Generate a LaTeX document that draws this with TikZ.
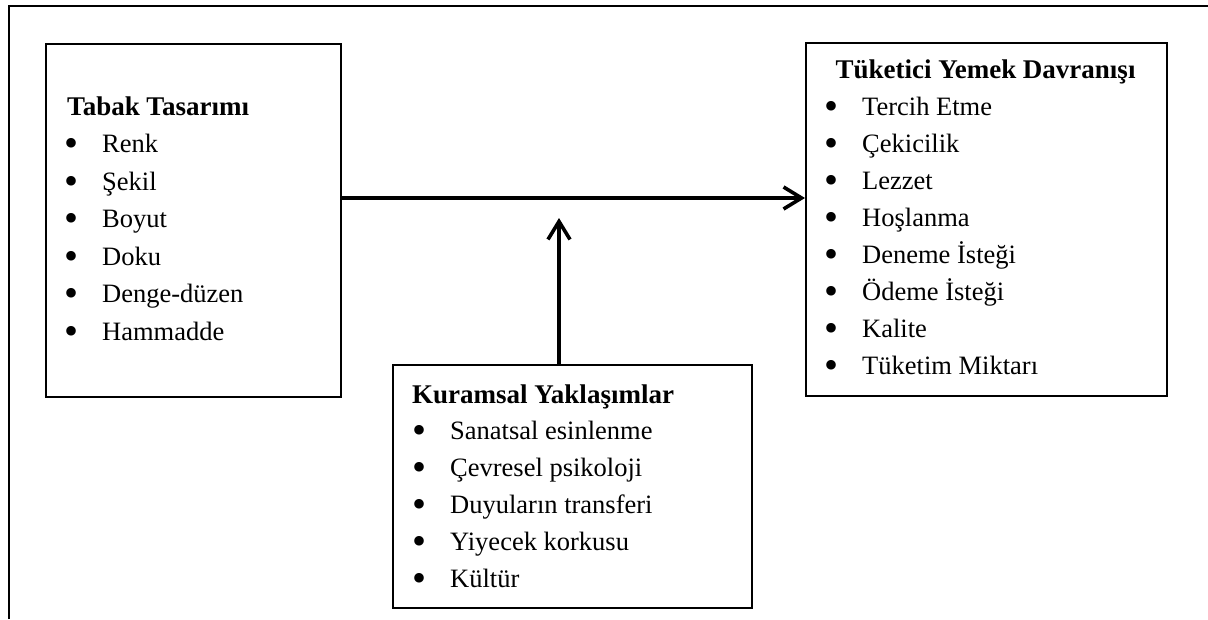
\documentclass[tikz,border=0pt]{standalone}
\usepackage{fontspec}
\setmainfont{Liberation Serif}
\usetikzlibrary{arrows.meta}
\newcommand\mybul{\makebox[38pt][l]{\raisebox{-4pt}{\fontsize{40}{40}\selectfont\textbullet}}}
\begin{document}
\begin{tikzpicture}[x=1pt,y=-1pt,
  box/.style={draw=black,line width=1.5pt,rectangle,inner sep=0pt,anchor=north west},
  ttl/.style={anchor=base west,inner sep=0pt,font=\fontsize{27}{27}\selectfont\bfseries},
  itm/.style={anchor=base west,inner sep=0pt,font=\fontsize{26.5}{27}\selectfont},
  arr/.style={line width=3.6pt,-{Straight Barb[length=18pt,width=22pt]}},
  frame/.style={line width=2pt}]
\useasboundingbox (0,0) rectangle (1208,619);
% outer frame
\coordinate (f1) at (9,619);
\coordinate (f2) at (9,5.7);
\coordinate (f3) at (1208,5.7);
\draw[frame] (f1) -- (f2) -- (f3);
% boxes
\node[box,minimum width=295pt,minimum height=353pt] (tabak) at (45,43) {};
\node[box,minimum width=361pt,minimum height=353pt] (tuk) at (805,42) {};
\node[box,minimum width=359pt,minimum height=243pt] (kur) at (392,364) {};
% left box text
\node[ttl] (t0) at (67,115) {Tabak Tasarımı};
\node[itm] (t1) at (64,152.7) {\mybul Renk};
\node[itm] (t2) at (64,190.2) {\mybul Şekil};
\node[itm] (t3) at (64,227.7) {\mybul Boyut};
\node[itm] (t4) at (64,265.2) {\mybul Doku};
\node[itm] (t5) at (64,302.7) {\mybul Denge-düzen};
\node[itm] (t6) at (64,340.2) {\mybul Hammadde};
% right box text
\node[ttl,anchor=base] (r0) at (985.5,78) {Tüketici Yemek Davranışı};
\node[itm] (r1) at (824,115.1) {\mybul Tercih Etme};
\node[itm] (r2) at (824,152.2) {\mybul Çekicilik};
\node[itm] (r3) at (824,189.3) {\mybul Lezzet};
\node[itm] (r4) at (824,226.4) {\mybul Hoşlanma};
\node[itm] (r5) at (824,263.5) {\mybul Deneme İsteği};
\node[itm] (r6) at (824,300.6) {\mybul Ödeme İsteği};
\node[itm] (r7) at (824,337.7) {\mybul Kalite};
\node[itm] (r8) at (824,374.8) {\mybul Tüketim Miktarı};
% bottom box text
\node[ttl] (k0) at (412,403) {Kuramsal Yaklaşımlar};
\node[itm] (k1) at (412,439.8) {\mybul Sanatsal esinlenme};
\node[itm] (k2) at (412,476.6) {\mybul Çevresel psikoloji};
\node[itm] (k3) at (412,513.4) {\mybul Duyuların transferi};
\node[itm] (k4) at (412,550.2) {\mybul Yiyecek korkusu};
\node[itm] (k5) at (412,587) {\mybul Kültür};
% arrows
\coordinate (hm) at (559,198);
\coordinate (vt) at (559,218);
\draw[arr] (tabak.east |- hm) -- (tuk.west |- hm);
\draw[arr] (kur.north -| vt) -- (vt);
\end{tikzpicture}
\end{document}
